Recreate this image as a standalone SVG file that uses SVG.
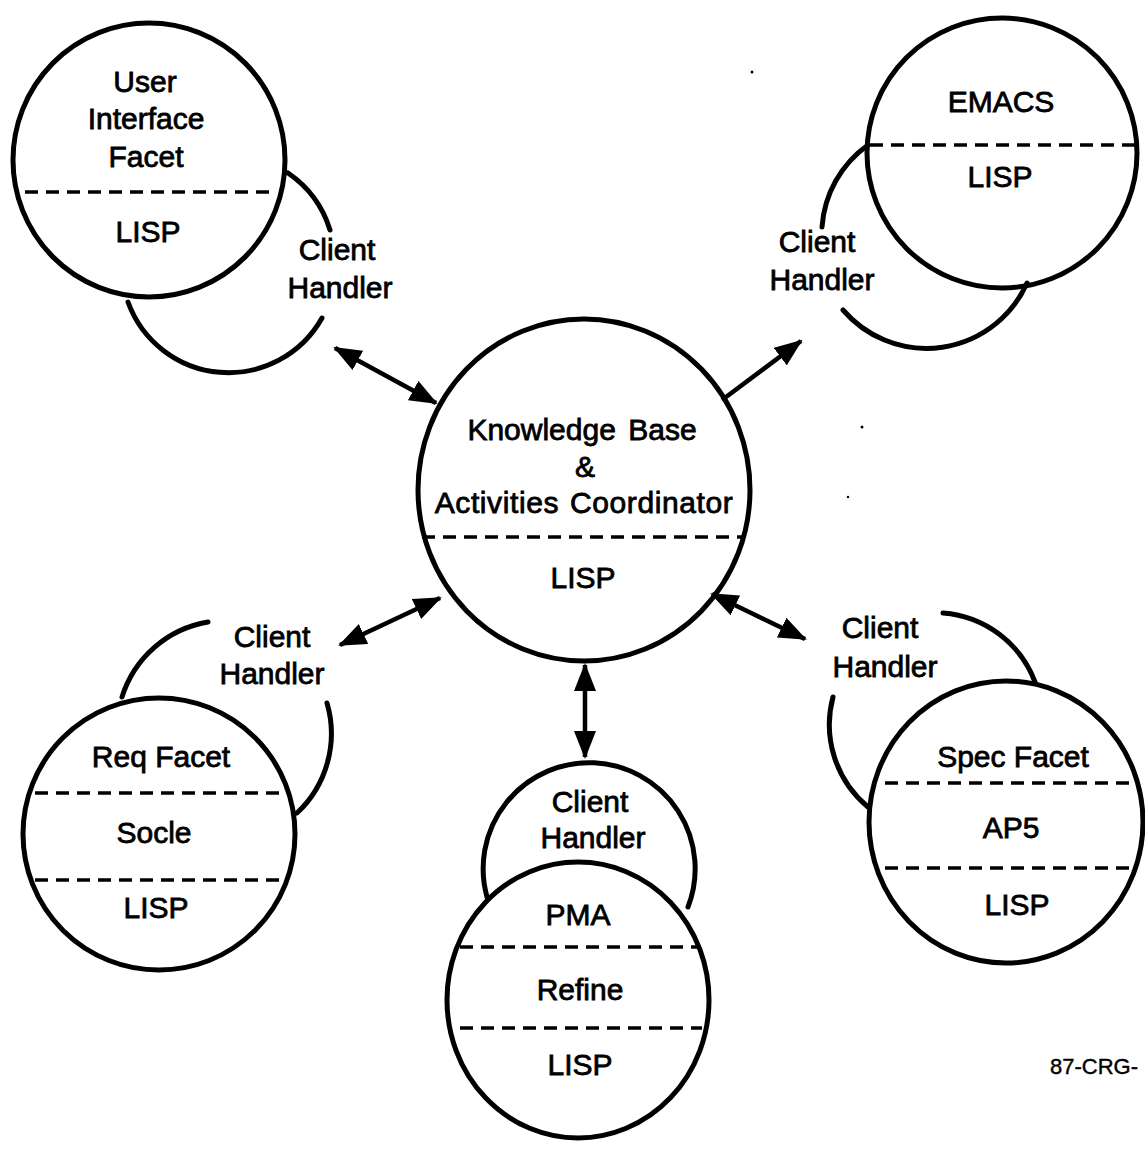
<svg xmlns="http://www.w3.org/2000/svg" width="1145" height="1149" viewBox="0 0 1145 1149">
  <style>
    .ring { fill: none; stroke: #000; stroke-width: 5; }
    .arc { fill: none; stroke: #000; stroke-width: 5; stroke-linecap: round; }
    .sep { stroke: #000; stroke-width: 3.5; stroke-dasharray: 13 8; }
    .lbl { font-family: "Liberation Sans", Arial, sans-serif; font-size: 30px; fill: #000; stroke: #000; stroke-width: 0.8; text-anchor: middle; }
    .link { stroke: #000; stroke-width: 4.5; fill: none; }
    .tag { font-family: "Liberation Sans", Arial, sans-serif; font-size: 22px; fill: #000; stroke: #000; stroke-width: 0.4; }
  </style>
  <defs>
    <marker id="head" viewBox="0 0 28 22" refX="26" refY="11" markerWidth="28" markerHeight="22" markerUnits="userSpaceOnUse" orient="auto-start-reverse">
      <path d="M0,0 L28,11 L0,22 Z" fill="#000"/>
    </marker>
  </defs>
  <rect width="1145" height="1149" fill="#fff"/>

  <!-- connectors between the coordinator and the facets -->
  <g id="connectors">
    <line class="link" x1="335" y1="348" x2="436" y2="403" marker-start="url(#head)" marker-end="url(#head)"/>
    <line class="link" x1="722" y1="400" x2="801" y2="341" marker-end="url(#head)"/>
    <line class="link" x1="440" y1="598" x2="340" y2="645" marker-start="url(#head)" marker-end="url(#head)"/>
    <line class="link" x1="712" y1="594" x2="805" y2="639" marker-start="url(#head)" marker-end="url(#head)"/>
    <line class="link" x1="585" y1="665" x2="585" y2="757" marker-start="url(#head)" marker-end="url(#head)"/>
  </g>

  <!-- User Interface Facet -->
  <g id="ui-facet">
    <ellipse class="ring" cx="149" cy="160" rx="136" ry="137"/>
    <line class="sep" x1="25" y1="192" x2="272" y2="192"/>
    <text class="lbl" x="145" y="92">User</text>
    <text class="lbl" x="146" y="129">Interface</text>
    <text class="lbl" x="146" y="167">Facet</text>
    <text class="lbl" x="148" y="242">LISP</text>
    <path class="arc" d="M288 173 A107 107 0 0 1 330 230"/>
    <path class="arc" d="M322 318 A107 107 0 0 1 128 302"/>
    <text class="lbl" x="337" y="260">Client</text>
    <text class="lbl" x="340" y="298">Handler</text>
  </g>

  <!-- EMACS -->
  <g id="emacs">
    <ellipse class="ring" cx="1002" cy="153" rx="135" ry="135"/>
    <line class="sep" x1="870" y1="145" x2="1135" y2="145"/>
    <text class="lbl" x="1001" y="112">EMACS</text>
    <text class="lbl" x="1000" y="187">LISP</text>
    <path class="arc" d="M868 145 A110 110 0 0 0 822 227"/>
    <path class="arc" d="M843 310 A110 110 0 0 0 1027 283"/>
    <text class="lbl" x="817" y="252">Client</text>
    <text class="lbl" x="822" y="290">Handler</text>
  </g>

  <!-- Knowledge Base & Activities Coordinator -->
  <g id="coordinator">
    <ellipse class="ring" cx="584" cy="490" rx="166" ry="171"/>
    <line class="sep" x1="422" y1="537" x2="742" y2="537"/>
    <text class="lbl" x="582" y="440" word-spacing="4">Knowledge Base</text>
    <text class="lbl" x="585" y="477">&amp;</text>
    <text class="lbl" x="584" y="513" word-spacing="2" letter-spacing="0.6">Activities Coordinator</text>
    <text class="lbl" x="583" y="588">LISP</text>
  </g>

  <!-- Req Facet -->
  <g id="req-facet">
    <ellipse class="ring" cx="159" cy="834" rx="136" ry="136"/>
    <line class="sep" x1="35" y1="793" x2="280" y2="793"/>
    <line class="sep" x1="35" y1="880" x2="280" y2="880"/>
    <text class="lbl" x="161" y="767">Req Facet</text>
    <text class="lbl" x="154" y="843">Socle</text>
    <text class="lbl" x="156" y="918">LISP</text>
    <path class="arc" d="M122 697 A109 109 0 0 1 208 622"/>
    <path class="arc" d="M327 703 A109 109 0 0 1 297 813"/>
    <text class="lbl" x="272" y="647">Client</text>
    <text class="lbl" x="272" y="684">Handler</text>
  </g>

  <!-- PMA / Refine -->
  <g id="pma">
    <ellipse class="ring" cx="578" cy="1000" rx="131" ry="138"/>
    <line class="sep" x1="460" y1="947" x2="700" y2="947"/>
    <line class="sep" x1="460" y1="1028" x2="702" y2="1028"/>
    <text class="lbl" x="578" y="925">PMA</text>
    <text class="lbl" x="580" y="1000">Refine</text>
    <text class="lbl" x="580" y="1075">LISP</text>
    <path class="arc" d="M487 897 A106 106 0 1 1 688 907"/>
    <text class="lbl" x="590" y="812">Client</text>
    <text class="lbl" x="593" y="848">Handler</text>
  </g>

  <!-- Spec Facet -->
  <g id="spec-facet">
    <ellipse class="ring" cx="1006" cy="822" rx="137" ry="141"/>
    <line class="sep" x1="885" y1="783" x2="1130" y2="783"/>
    <line class="sep" x1="885" y1="868" x2="1130" y2="868"/>
    <text class="lbl" x="1013" y="767">Spec Facet</text>
    <text class="lbl" x="1011" y="838">AP5</text>
    <text class="lbl" x="1017" y="915">LISP</text>
    <path class="arc" d="M943 613 A107 107 0 0 1 1035 682"/>
    <path class="arc" d="M833 697 A107 107 0 0 0 868 807"/>
    <text class="lbl" x="880" y="638">Client</text>
    <text class="lbl" x="885" y="677">Handler</text>
  </g>

  <!-- figure number and stray specks -->
  <text class="tag" x="1050" y="1074">87-CRG-</text>
  <circle cx="752" cy="72" r="1.5" fill="#000"/>
  <circle cx="862" cy="427" r="1.5" fill="#000"/>
  <circle cx="848" cy="497" r="1.2" fill="#000"/>
</svg>
